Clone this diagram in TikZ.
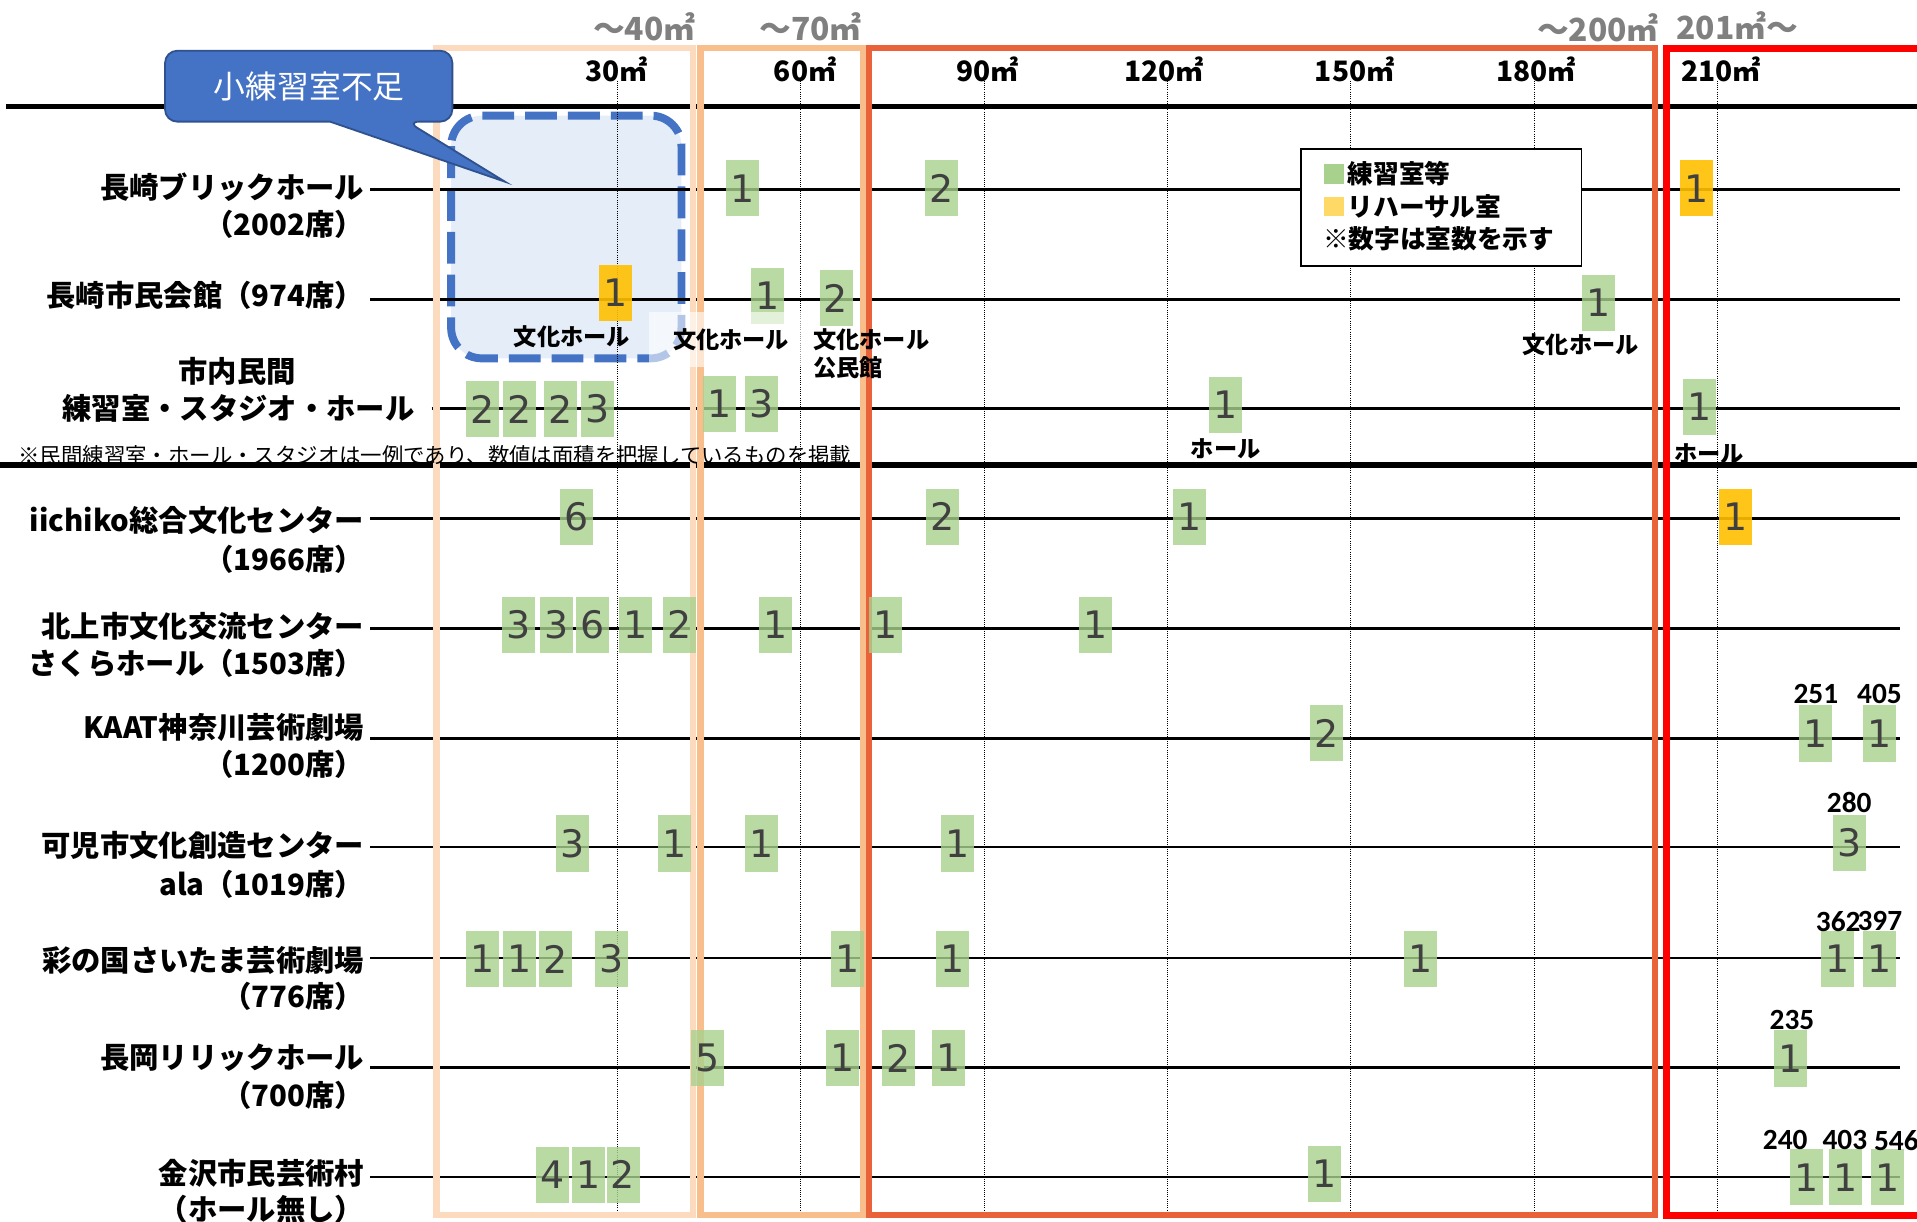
\documentclass[tikz,border=0pt]{standalone}
\usepackage{fontspec}
\usepackage{xcolor}
\usepackage{tikz}
\usetikzlibrary{positioning}
\newfontfamily\jp{Noto Sans CJK JP}
\newfontfamily\numfont{DejaVu Sans}
\newfontfamily\carl{Carlito}
\definecolor{roomgreen}{RGB}{169,209,142}
\definecolor{rehyellow}{RGB}{255,192,0}
\definecolor{legyellow}{RGB}{255,217,102}
\definecolor{digitgray}{RGB}{64,64,64}
\definecolor{rangegray}{RGB}{128,128,128}
\definecolor{peach}{RGB}{252,218,190}
\definecolor{lightorange}{RGB}{248,190,140}
\definecolor{orangered}{RGB}{234,98,57}
\definecolor{boxred}{RGB}{255,0,0}
\definecolor{callblue}{RGB}{68,114,196}
\definecolor{calldark}{RGB}{47,82,143}
\definecolor{paleblue}{RGB}{229,237,248}

\begin{document}
\begin{tikzpicture}[x=1pt, y=-1pt,
  room/.style={minimum width=27, minimum height=46, inner sep=0, fill=roomgreen, fill opacity=0.8, text opacity=1, text=digitgray, font=\numfont\fontsize{31}{31}\selectfont},
  reh/.style={room, fill=rehyellow, fill opacity=0.9},
  lbl/.style={anchor=east, inner sep=0, font=\jp\bfseries\fontsize{24}{28}\selectfont},
  hall/.style={inner sep=0, font=\jp\bfseries\fontsize{19}{19}\selectfont},
  sizelbl/.style={inner sep=0, font=\carl\bfseries\fontsize{24}{24}\selectfont},
  scalelbl/.style={inner sep=0, font=\jp\bfseries\fontsize{23}{23}\selectfont},
  rangelbl/.style={inner sep=0, text=rangegray, font=\jp\bfseries\fontsize{26}{26}\selectfont},
  legtxt/.style={inner sep=0, anchor=west, font=\jp\bfseries\fontsize{21}{21}\selectfont},
  gridline/.style={densely dotted, line width=0.8},
  rowline/.style={line width=2},
  sepline/.style={line width=4.5},
  rangebox/.style={line width=5},
]

\path[use as bounding box, fill=white] (0,0) rectangle (1568,999.5);

% small-room shortage area
\draw[callblue, fill=paleblue, line width=6.5, dash pattern=on 26pt off 9pt, rounded corners=25] (369,94.6) rectangle (557.4,293.1);

% grid
\draw[gridline] (505,66) -- (505,994);
\draw[gridline] (655,66) -- (655,994);
\draw[gridline] (805,66) -- (805,994);
\draw[gridline] (955,66) -- (955,994);
\draw[gridline] (1105,66) -- (1105,994);
\draw[gridline] (1255,66) -- (1255,994);
\draw[gridline] (1405,66) -- (1405,994);

\draw[sepline] (5,87) -- (1568,87);
\draw[sepline] (0,380.4) -- (1568,380.4);

\draw[rowline] (303,155) -- (1554,155);
\draw[rowline] (303,245) -- (1554,245);
\draw[rowline] (353,334.3) -- (1554,334.3);
\draw[rowline] (303,424) -- (1554,424);
\draw[rowline] (303,514) -- (1554,514);
\draw[rowline] (303,604) -- (1554,604);
\draw[rowline] (303,693) -- (1554,693);
\draw[rowline] (303,783.4) -- (1554,783.4);
\draw[rowline] (303,873) -- (1554,873);
\draw[rowline] (303,962.6) -- (1554,962.6);

% size ranges
\draw[rangebox, peach] (357,39.5) rectangle (567,994);
\draw[rangebox, lightorange] (573,39.5) rectangle (706,994);
\draw[rangebox, orangered] (711,39.5) rectangle (1354,994);
\draw[rangebox, boxred, line width=6] (1363,39.5) rectangle (1572,994);

% rooms
\node[room] (b1a) at (607.5,154) {1};
\node[room] (b1b) at (770,154) {2};
\node[reh] (b1c) at (1387.5,154) {1};

\node[reh] (b2a) at (503.3,239.5) {1};
\node[room] (b2b) at (628,242) {1};
\node[room] (b2c) at (683.8,243.8) {2};
\node[room] (b2d) at (1307.8,247.8) {1};

\node[room] (b3a) at (394.9,334.5) {2};
\node[room] (b3b) at (424.9,334.5) {2};
\node[room] (b3c) at (458.5,334.5) {2};
\node[room] (b3d) at (488.5,334.5) {3};
\node[room] (b3e) at (588.2,330.4) {1};
\node[room] (b3f) at (622.7,330.4) {3};
\node[room] (b3g) at (1002.5,331) {1};
\node[room] (b3h) at (1390.2,332.7) {1};

\node[room] (b4a) at (471.8,423) {6};
\node[room] (b4b) at (771.1,422.6) {2};
\node[room] (b4c) at (972.7,422.6) {1};
\node[reh] (b4d) at (1419.4,423) {1};

\node[room] (b5a) at (423.9,511) {3};
\node[room] (b5b) at (455,511) {3};
\node[room] (b5c) at (484.8,511) {6};
\node[room] (b5d) at (519.6,511) {1};
\node[room] (b5e) at (555.6,511) {2};
\node[room] (b5f) at (634.3,511) {1};
\node[room] (b5g) at (724.2,511) {1};
\node[room] (b5h) at (895.8,511) {1};

\node[room] (b6a) at (1084.8,599.5) {2};
\node[room] (b6b) at (1485.1,599.9) {1};
\node[room] (b6c) at (1537.2,599.9) {1};

\node[room] (b7a) at (468,690) {3};
\node[room] (b7b) at (551.6,690) {1};
\node[room] (b7c) at (622.7,690) {1};
\node[room] (b7d) at (783.3,690) {1};
\node[room] (b7e) at (1512.7,689.4) {3};

\node[room] (b8a) at (394.6,784.5) {1};
\node[room] (b8b) at (424.9,784.5) {1};
\node[room] (b8c) at (454.2,784.5) {2};
\node[room] (b8d) at (500,784.5) {3};
\node[room] (b8e) at (693.5,784.5) {1};
\node[room] (b8f) at (779.3,784.5) {1};
\node[room] (b8g) at (1161.6,784.5) {1};
\node[room] (b8h) at (1503.1,784.5) {1};
\node[room] (b8i) at (1537.2,784.5) {1};

\node[room] (b9a) at (578.7,865.5) {5};
\node[room] (b9b) at (688.8,865.5) {1};
\node[room] (b9c) at (735.2,865.5) {2};
\node[room] (b9d) at (776,865.5) {1};
\node[room] (b9e) at (1464.5,865.8) {1};

\node[room] (b10a) at (451.7,961) {4};
\node[room] (b10b) at (481,961) {1};
\node[room] (b10c) at (509.6,961) {2};
\node[room] (b10d) at (1083.6,960) {1};
\node[room] (b10e) at (1477.7,963) {1};
\node[room] (b10f) at (1509.5,963) {1};
\node[room] (b10g) at (1544,963) {1};

% hall notes
\node[hall] (h1) at (467.8,275.4) {文化ホール};
\node[hall, fill=white, fill opacity=0.6, text opacity=1, minimum width=134, minimum height=45] (h2) at (598,278) {文化ホール};
\node[hall, anchor=west] (h3) at (665,278) {文化ホール};
\node[hall, anchor=west] (h3b) at (665,300.5) {公民館};
\node[hall] (h4) at (1293,282.2) {文化ホール};
\node[hall] (h5) at (1002.5,366.8) {ホール};
\node[hall] (h6) at (1398,370.8) {ホール};

% room sizes over 200
\node[sizelbl] (a6b) at (1485.3,568) {251};
\node[sizelbl] (a6c) at (1537.3,568) {405};
\node[sizelbl] (a7e) at (1512.6,656.4) {280};
\node[sizelbl] (a8h) at (1503.6,753.4) {362};
\node[sizelbl] (a8i) at (1537.6,753.4) {397};
\node[sizelbl] (a9e) at (1465.7,834) {235};
\node[sizelbl] (a10e) at (1460.2,932.6) {240};
\node[sizelbl] (a10f) at (1509,932.6) {403};
\node[sizelbl] (a10g) at (1551.1,932.6) {546};

% scale
\node[scalelbl] (s30) at (504.5,57) {30㎡};
\node[scalelbl] (s60) at (658.5,57) {60㎡};
\node[scalelbl] (s90) at (808,57) {90㎡};
\node[scalelbl] (s120) at (952,57) {120㎡};
\node[scalelbl] (s150) at (1108,57) {150㎡};
\node[scalelbl] (s180) at (1256.6,57) {180㎡};
\node[scalelbl] (s210) at (1407.7,57) {210㎡};

\node[rangelbl] (g40) at (527,22) {～40㎡};
\node[rangelbl] (g70) at (663,22) {～70㎡};
\node[rangelbl] (g200) at (1307,23) {～200㎡};
\node[rangelbl] (g201) at (1421,21) {201㎡～};

% callout
\draw[fill=callblue, draw=calldark, line width=1.5] (250,41.5) [rounded corners=10] -- (370,41.5) -- (370,99.5) -- (333,99.5) [sharp corners] -- (413,148.6) -- (270,99.5) [rounded corners=10] -- (135,99.5) -- (135,41.5) -- cycle;
\node[inner sep=0, text=white, font=\jp\fontsize{26}{26}\selectfont] (cl) at (253,70.4) {小練習室不足};

% legend
\node[draw, fill=white, line width=1.5, minimum width=229.7, minimum height=95.7, inner sep=0] (leg) at (1178.75,169.75) {};
\node[fill=roomgreen, minimum size=16, inner sep=0] (lgg) at (1091,142.4) {};
\node[legtxt, right=3 of lgg] (lgt1) {練習室等};
\node[fill=legyellow, minimum size=16, inner sep=0] (lgy) at (1091,168.8) {};
\node[legtxt, right=3 of lgy] (lgt2) {リハーサル室};
\node[legtxt] (lgt3) at (1082,195) {※数字は室数を示す};

% facilities
\node[lbl] (n1) at (298,152.7) {長崎ブリックホール};
\node[lbl] (n1s) at (298,183.3) {（2002席）};
\node[lbl] (n2) at (298,241.3) {長崎市民会館（974席）};
\node[lbl, anchor=center] (n3) at (194,304) {市内民間};
\node[lbl, anchor=center] (n3s) at (195,334) {練習室・スタジオ・ホール};
\node[anchor=west, inner sep=0, font=\jp\fontsize{17.5}{17.5}\selectfont] (fn) at (15,372.5) {※民間練習室・ホール・スタジオは一例であり、数値は面積を把握しているものを掲載};
\node[lbl] (n4) at (298,426) {iichiko総合文化センター};
\node[lbl] (n4s) at (298,457.2) {（1966席）};
\node[lbl] (n5) at (298,512.6) {北上市文化交流センター};
\node[lbl] (n5s) at (298,542.6) {さくらホール（1503席）};
\node[lbl] (n6) at (298,595) {KAAT神奈川芸術劇場};
\node[lbl] (n6s) at (298,625) {（1200席）};
\node[lbl] (n7) at (298,691.2) {可児市文化創造センター};
\node[lbl] (n7s) at (298,723.2) {ala（1019席）};
\node[lbl] (n8) at (298,785.3) {彩の国さいたま芸術劇場};
\node[lbl] (n8s) at (298,815.3) {（776席）};
\node[lbl] (n9) at (298,865) {長岡リリックホール};
\node[lbl] (n9s) at (298,895.8) {（700席）};
\node[lbl] (n10) at (298,959.9) {金沢市民芸術村};
\node[lbl] (n10s) at (298,989) {（ホール無し）};
\end{tikzpicture}
\end{document}
